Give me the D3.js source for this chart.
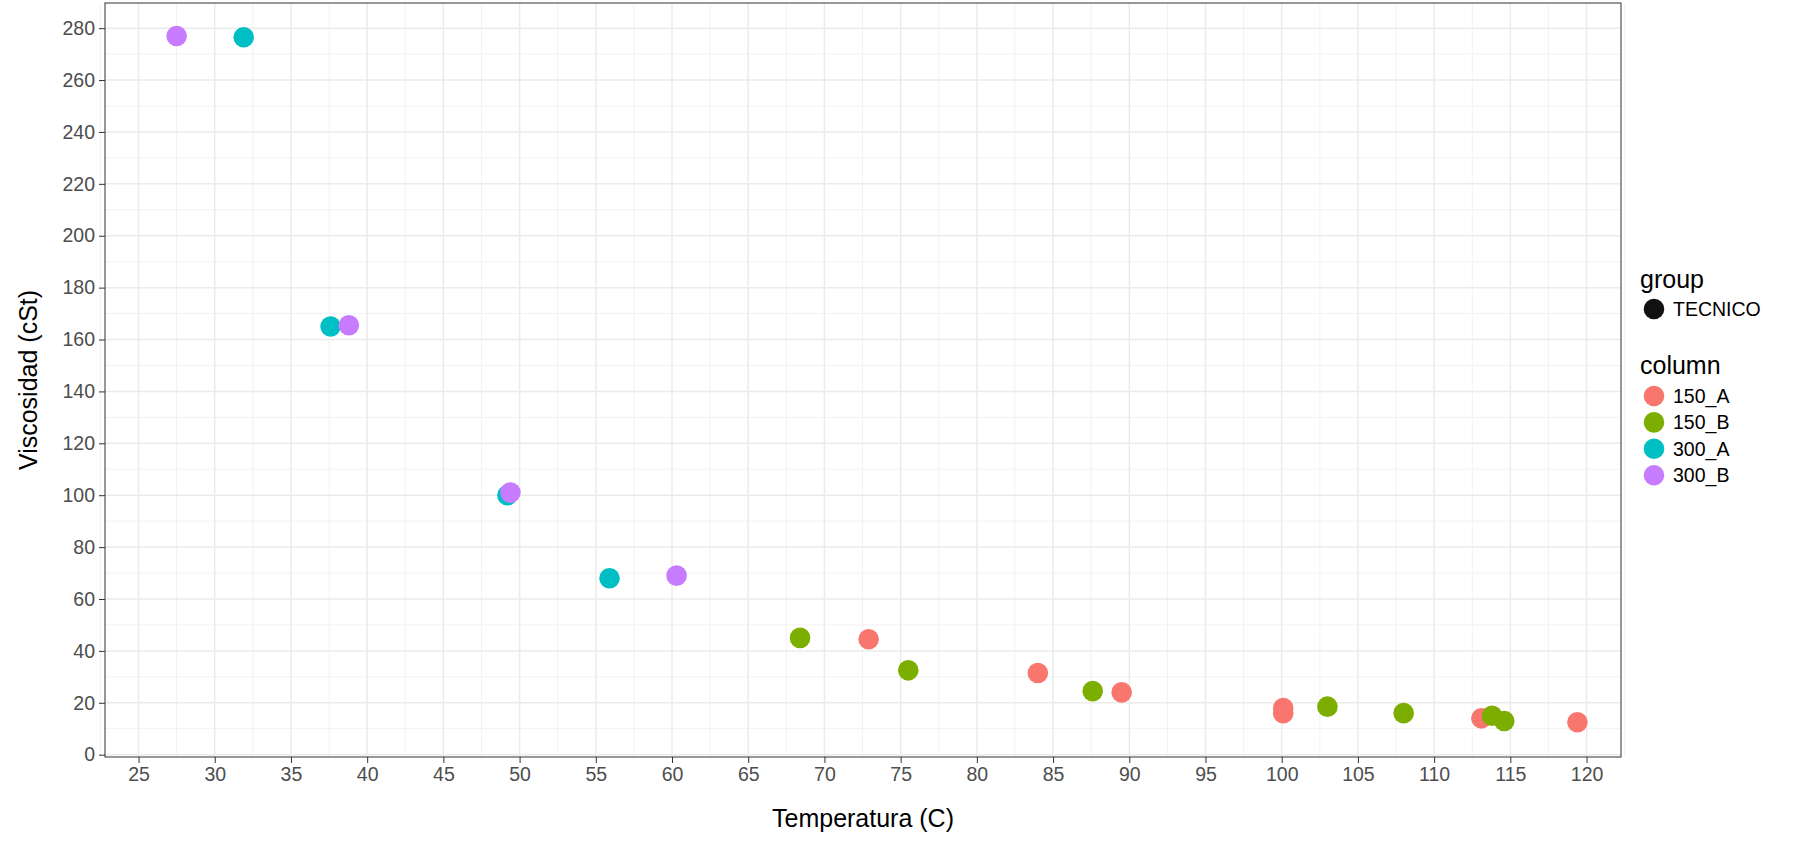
<!DOCTYPE html>
<html><head><meta charset="utf-8">
<script src="https://cdn.jsdelivr.net/npm/d3@7"></script>
<style>body{margin:0;background:#fff;font-family:"Liberation Sans",Arial,sans-serif}</style>
</head><body><svg id="chart" width="1799" height="841"></svg>
<script>
// series values
const series = ["150_A", "150_B", "300_A", "300_B"];
const colors = ["#F8766D", "#7CAE00", "#00BFC4", "#C77CFF"];
const temp150A = [72.9, 84, 89.5, 100.1, 100.1, 113.1, 119.4];
const visc150A = [44.5, 31.5, 24, 18, 16, 14, 12.5];
const temp150B = [68.4, 75.5, 87.6, 103, 108, 113.8, 114.6];
const visc150B = [45, 32.5, 24.5, 18.5, 16, 15, 13];
const temp300A = [31.9, 37.6, 49.2, 55.9];
const visc300A = [276.5, 165, 100, 68];
const temp300B = [27.5, 38.8, 49.4, 60.3];
const visc300B = [277, 165.5, 101, 69];
const xTicks = d3.range(25, 121, 5);
const yTicks = d3.range(0, 281, 20);

const temps = [temp150A, temp150B, temp300A, temp300B];
const viscs = [visc150A, visc150B, visc300A, visc300B];

const svg = d3.select("#chart");
const L = 105, R = 1621, T = 3, B = 757;
const x = d3.scaleLinear().domain([22.8, 122.26]).range([L, R]);
const y = d3.scaleLinear().domain([-0.9, 289.7]).range([B, T]);

// minor grid
const g = svg.append("g");
d3.range(22.5, 123, 5).forEach(v => g.append("line").attr("x1", x(v)).attr("x2", x(v)).attr("y1", T).attr("y2", B).attr("stroke", "#f2f2f2").attr("stroke-width", 1));
d3.range(10, 290, 20).forEach(v => g.append("line").attr("x1", L).attr("x2", R).attr("y1", y(v)).attr("y2", y(v)).attr("stroke", "#f2f2f2").attr("stroke-width", 1));
xTicks.forEach(v => g.append("line").attr("x1", x(v)).attr("x2", x(v)).attr("y1", T).attr("y2", B).attr("stroke", "#ebebeb").attr("stroke-width", 1.5));
yTicks.forEach(v => g.append("line").attr("x1", L).attr("x2", R).attr("y1", y(v)).attr("y2", y(v)).attr("stroke", "#ebebeb").attr("stroke-width", 1.5));

// points
series.forEach((s, i) => {
  svg.append("g").selectAll("circle").data(temps[i].map((t, j) => [t, viscs[i][j]]))
    .join("circle").attr("cx", d => x(d[0])).attr("cy", d => y(d[1])).attr("r", 10.3).attr("fill", colors[i]);
});

svg.append("rect").attr("x", L).attr("y", T).attr("width", R - L).attr("height", B - T).attr("fill", "none").attr("stroke", "#333").attr("stroke-width", 1);

// axes
const xa = svg.append("g").attr("transform", `translate(0,${B})`).call(d3.axisBottom(x).tickValues(xTicks).tickSize(6).tickPadding(4));
const ya = svg.append("g").attr("transform", `translate(${L},0)`).call(d3.axisLeft(y).tickValues(yTicks).tickSize(6).tickPadding(4));
[xa, ya].forEach(a => {
  a.select(".domain").remove();
  a.selectAll(".tick line").attr("stroke", "#333");
  a.selectAll("text").attr("font-size", 19.5).attr("fill", "#4d4d4d").attr("font-family", "Liberation Sans, Arial");
});

svg.append("text").attr("x", (L + R) / 2).attr("y", 827).attr("text-anchor", "middle").attr("font-size", 25).text("Temperatura (C)");
svg.append("text").attr("transform", `translate(37,${(T + B) / 2}) rotate(-90)`).attr("text-anchor", "middle").attr("font-size", 25).text("Viscosidad (cSt)");

// legend
const lg = svg.append("g").attr("font-size", 19.5);
lg.append("text").attr("x", 1640).attr("y", 288).attr("font-size", 25).text("group");
lg.append("circle").attr("cx", 1654).attr("cy", 309).attr("r", 10.3).attr("fill", "#111");
lg.append("text").attr("x", 1673).attr("y", 316).text("TECNICO");
lg.append("text").attr("x", 1640).attr("y", 374).attr("font-size", 25).text("column");
series.forEach((s, i) => {
  const yy = 396 + i * 26.4;
  lg.append("circle").attr("cx", 1654).attr("cy", yy).attr("r", 10.3).attr("fill", colors[i]);
  lg.append("text").attr("x", 1673).attr("y", yy + 7).text(s);
});
</script></body></html>
